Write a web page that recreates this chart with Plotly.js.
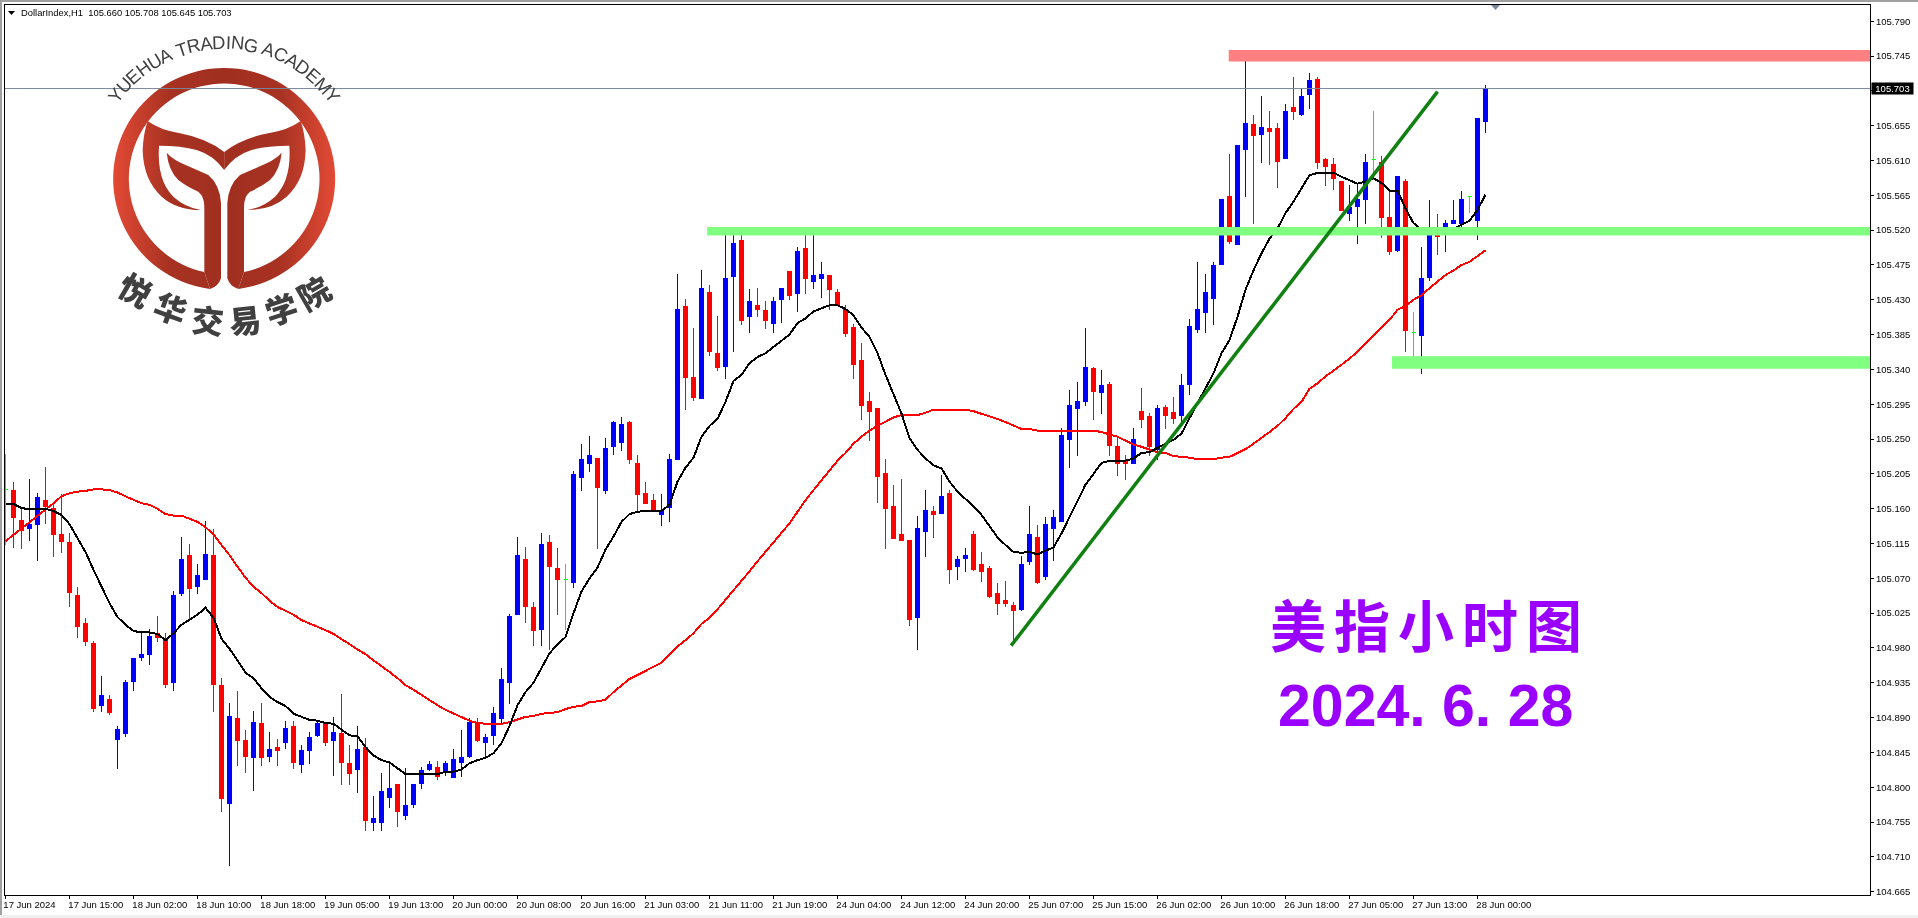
<!DOCTYPE html>
<html><head><meta charset="utf-8">
<script src="https://cdn.plot.ly/plotly-3.0.1.min.js"></script>
<style>html,body{margin:0;padding:0;background:#fff;overflow:hidden}#chart{width:1918px;height:918px}</style>
</head><body><div id="chart"></div>
<script>
const opens=[105.185,105.184,105.145,105.135,105.140,105.171,105.160,105.126,105.116,105.048,
105.011,104.986,104.905,104.914,104.862,104.870,104.937,104.968,104.972,104.999,
104.991,104.935,105.050,105.099,105.060,105.069,105.099,104.931,104.779,104.889,
104.860,104.838,104.882,104.840,104.851,104.858,104.879,104.830,104.848,104.867,
104.882,104.860,104.869,104.831,104.823,104.851,104.755,104.755,104.787,104.804,
104.763,104.778,104.805,104.823,104.826,104.820,104.813,104.832,104.840,104.884,
104.858,104.867,104.889,104.935,105.023,105.094,105.032,105.004,105.116,105.083,
105.069,105.065,105.200,105.219,105.225,105.184,105.240,105.245,105.271,105.219,
105.180,105.171,105.153,105.162,105.224,105.421,105.329,105.303,105.439,105.361,
105.344,105.460,105.506,105.408,105.423,105.416,105.400,105.430,105.466,105.438,
105.496,105.454,105.457,105.461,105.440,105.418,105.394,105.351,105.299,105.289,
105.206,105.163,105.126,105.119,105.020,105.130,105.156,105.154,105.179,105.085,
105.095,105.126,105.088,105.083,105.051,105.041,105.035,105.030,105.092,105.123,
105.073,105.135,105.144,105.250,105.290,105.299,105.341,105.310,105.321,105.241,
105.222,105.219,105.286,105.279,105.236,105.291,105.284,105.280,105.320,105.392,
105.414,105.432,105.475,105.564,105.502,105.624,105.656,105.644,105.651,105.651,
105.612,105.678,105.669,105.695,105.715,105.611,105.605,105.583,105.542,105.550,
105.559,105.611,105.608,105.536,105.494,105.583,105.388,105.384,105.459,105.519,
105.518,105.529,105.529,105.564,105.532,105.660];
const closes=[105.185,105.148,105.132,105.139,105.174,105.163,105.127,105.118,105.052,105.008,
104.988,104.902,104.919,104.897,104.874,104.935,104.966,104.971,104.995,104.993,
104.933,105.048,105.094,105.057,105.074,105.101,104.933,104.785,104.891,104.860,
104.840,104.884,104.838,104.849,104.848,104.876,104.832,104.847,104.864,104.882,
104.858,104.871,104.832,104.818,104.849,104.757,104.759,104.794,104.799,104.768,
104.776,104.804,104.821,104.829,104.814,104.831,104.836,104.839,104.884,104.860,
104.864,104.895,104.939,105.021,105.099,105.033,105.003,105.114,105.085,105.069,
105.069,105.204,105.224,105.229,105.188,105.238,105.271,105.269,105.223,105.178,
105.167,105.158,105.158,105.224,105.418,105.329,105.304,105.444,105.363,105.342,
105.458,105.503,105.403,105.428,105.417,105.403,105.428,105.444,105.435,105.493,
105.457,105.461,105.463,105.443,105.423,105.387,105.347,105.293,105.285,105.202,
105.160,105.122,105.119,105.017,105.134,105.158,105.153,105.176,105.082,105.094,
105.099,105.082,105.079,105.047,105.038,105.038,105.028,105.088,105.126,105.065,
105.139,105.149,105.254,105.294,105.299,105.343,105.312,105.319,105.242,105.218,
105.218,105.249,105.275,105.240,105.289,105.280,105.277,105.319,105.396,105.418,
105.439,105.474,105.559,105.505,105.629,105.658,105.642,105.653,105.647,105.609,
105.674,105.673,105.693,105.714,105.607,105.602,105.587,105.545,105.549,105.559,
105.608,105.611,105.537,105.492,105.589,105.390,105.388,105.458,105.514,105.512,
105.529,105.533,105.560,105.564,105.664,105.703];
const highs=[105.231,105.194,105.160,105.198,105.180,105.214,105.167,105.179,105.129,105.059,
105.019,104.989,104.944,104.919,104.879,104.938,104.966,105.000,105.004,105.021,
104.999,105.054,105.123,105.114,105.088,105.144,105.134,104.941,104.909,104.924,
104.874,104.898,104.909,104.871,104.862,104.885,104.885,104.854,104.871,104.887,
104.884,104.891,104.920,104.854,104.879,104.863,104.789,104.819,104.830,104.804,
104.825,104.804,104.826,104.834,104.834,104.834,104.849,104.874,104.889,104.889,
104.869,104.904,104.954,105.024,105.123,105.110,105.039,105.129,105.126,105.109,
105.088,105.209,105.244,105.254,105.225,105.251,105.273,105.278,105.273,105.229,
105.194,105.179,105.179,105.231,105.463,105.431,105.394,105.469,105.449,105.409,
105.515,105.519,105.519,105.444,105.445,105.428,105.434,105.444,105.466,105.498,
105.515,105.514,105.479,105.461,105.444,105.423,105.399,105.374,105.311,105.289,
105.224,105.191,105.198,105.119,105.151,105.184,105.163,105.204,105.184,105.099,
105.109,105.131,105.104,105.086,105.064,105.066,105.039,105.099,105.163,105.139,
105.149,105.158,105.264,105.313,105.324,105.394,105.343,105.339,105.324,105.253,
105.229,105.264,105.316,105.284,105.294,105.294,105.304,105.334,105.405,105.479,
105.463,105.479,105.559,105.618,105.629,105.753,105.669,105.693,105.674,105.658,
105.683,105.718,105.704,105.723,105.718,105.613,105.613,105.583,105.578,105.580,
105.618,105.674,105.616,105.572,105.589,105.586,105.414,105.498,105.559,105.541,
105.533,105.559,105.571,105.564,105.664,105.708];
const lows=[105.113,105.109,105.108,105.118,105.092,105.140,105.098,105.103,105.033,104.993,
104.982,104.897,104.897,104.893,104.823,104.865,104.924,104.963,104.958,104.988,
104.928,104.924,105.047,105.016,105.050,105.068,104.897,104.768,104.698,104.827,
104.818,104.795,104.827,104.832,104.827,104.849,104.823,104.818,104.830,104.865,
104.853,104.814,104.803,104.803,104.792,104.743,104.743,104.743,104.773,104.748,
104.757,104.773,104.798,104.821,104.809,104.814,104.813,104.813,104.838,104.858,
104.838,104.854,104.883,104.908,105.023,105.012,104.983,104.983,104.977,105.022,
105.003,105.057,105.183,105.207,105.108,105.179,105.229,105.235,105.218,105.156,
105.167,105.158,105.138,105.143,105.223,105.288,105.299,105.303,105.357,105.338,
105.328,105.363,105.397,105.387,105.408,105.392,105.387,105.400,105.430,105.414,
105.438,105.444,105.432,105.417,105.423,105.382,105.328,105.275,105.247,105.167,
105.108,105.122,105.118,105.008,104.977,105.098,105.122,105.154,105.063,105.068,
105.078,105.079,105.065,105.045,105.022,105.033,104.984,105.028,105.087,105.063,
105.068,105.092,105.143,105.213,105.228,105.293,105.275,105.282,105.228,105.202,
105.197,105.218,105.264,105.228,105.223,105.263,105.269,105.267,105.307,105.387,
105.387,105.397,105.475,105.502,105.502,105.563,105.528,105.607,105.604,105.574,
105.612,105.662,105.668,105.677,105.599,105.577,105.572,105.545,105.532,105.502,
105.528,105.585,105.510,105.488,105.492,105.362,105.342,105.334,105.454,105.488,
105.492,105.528,105.519,105.542,105.507,105.645];
const maFast=[105.166,105.166,105.161,105.159,105.160,105.160,105.157,105.152,105.140,105.122,
105.104,105.081,105.059,105.038,105.020,105.010,105.002,105.000,105.000,104.998,
104.990,104.999,105.010,105.016,105.023,105.032,105.019,104.992,104.979,104.964,
104.948,104.941,104.928,104.917,104.910,104.905,104.895,104.891,104.887,104.886,
104.883,104.882,104.874,104.867,104.866,104.852,104.841,104.835,104.832,104.824,
104.817,104.817,104.817,104.817,104.817,104.820,104.820,104.823,104.831,104.835,
104.838,104.844,104.857,104.879,104.906,104.923,104.935,104.954,104.973,104.985,
104.994,105.025,105.053,105.070,105.084,105.107,105.124,105.143,105.153,105.156,
105.157,105.157,105.157,105.165,105.195,105.213,105.226,105.253,105.267,105.276,
105.298,105.325,105.333,105.348,105.356,105.361,105.369,105.378,105.385,105.400,
105.406,105.415,105.419,105.423,105.423,105.418,105.410,105.394,105.382,105.361,
105.333,105.307,105.283,105.251,105.236,105.225,105.216,105.212,105.195,105.182,
105.173,105.163,105.152,105.137,105.123,105.113,105.104,105.103,105.104,105.101,
105.105,105.110,105.128,105.150,105.170,105.191,105.205,105.219,105.222,105.222,
105.222,105.225,105.232,105.233,105.239,105.244,105.249,105.257,105.277,105.296,
105.315,105.335,105.361,105.378,105.408,105.443,105.468,105.490,105.509,105.522,
105.542,105.557,105.574,105.591,105.594,105.594,105.594,105.589,105.584,105.580,
105.583,105.587,105.581,105.571,105.571,105.548,105.529,105.521,105.520,105.519,
105.520,105.521,105.527,105.532,105.546,105.566];
const maSlow=[105.118,105.126,105.135,105.142,105.151,105.158,105.167,105.176,105.180,105.182,
105.183,105.185,105.185,105.184,105.181,105.176,105.171,105.167,105.165,105.160,
105.153,105.151,105.151,105.147,105.143,105.136,105.127,105.113,105.100,105.085,
105.071,105.059,105.051,105.041,105.033,105.028,105.023,105.016,105.012,105.007,
105.003,104.998,104.992,104.985,104.978,104.972,104.964,104.957,104.949,104.941,
104.932,104.926,104.919,104.913,104.906,104.900,104.895,104.890,104.886,104.883,
104.882,104.882,104.882,104.884,104.888,104.891,104.892,104.895,104.896,104.897,
104.901,104.904,104.905,104.910,104.911,104.913,104.923,104.932,104.940,104.945,
104.950,104.955,104.961,104.971,104.982,104.990,104.999,105.011,105.019,105.030,
105.042,105.055,105.066,105.079,105.092,105.104,105.117,105.129,105.141,105.156,
105.171,105.184,105.197,105.210,105.222,105.232,105.244,105.253,105.261,105.267,
105.272,105.278,105.281,105.281,105.281,105.284,105.288,105.288,105.288,105.288,
105.288,105.286,105.283,105.279,105.276,105.272,105.267,105.263,105.263,105.261,
105.261,105.261,105.261,105.261,105.261,105.261,105.261,105.259,105.256,105.253,
105.248,105.243,105.240,105.236,105.233,105.232,105.228,105.227,105.226,105.224,
105.224,105.224,105.226,105.227,105.232,105.237,105.244,105.251,105.259,105.267,
105.277,105.289,105.298,105.315,105.322,105.331,105.338,105.346,105.354,105.363,
105.374,105.384,105.393,105.404,105.417,105.422,105.430,105.436,105.445,105.453,
105.462,105.468,105.475,105.479,105.486,105.494];
const timeLabels=["17 Jun 2024","17 Jun 15:00","18 Jun 02:00","18 Jun 10:00","18 Jun 18:00","19 Jun 05:00","19 Jun 13:00","20 Jun 00:00","20 Jun 08:00","20 Jun 16:00","21 Jun 03:00","21 Jun 11:00","21 Jun 19:00","24 Jun 04:00","24 Jun 12:00","24 Jun 20:00","25 Jun 07:00","25 Jun 15:00","26 Jun 02:00","26 Jun 10:00","26 Jun 18:00","27 Jun 05:00","27 Jun 13:00","28 Jun 00:00"];
const timeBars=timeLabels.map((_,k)=>k*8);
const priceLabels=["104.665","104.710","104.755","104.800","104.845","104.890","104.935","104.980","105.025","105.070","105.115","105.160","105.205","105.250","105.295","105.340","105.385","105.430","105.475","105.520","105.565","105.610","105.655","105.700","105.745","105.790"];
const lastPrice=105.703;
const resistance=[105.738,105.753];
const supportHigh=[105.513,105.524];
const supportLow=[105.341,105.357];
const trendFrom=[125.7,104.983];
const trendTo=[179,105.699];

const W=1918,H=918,L=5,R=1870,T=5,B=895;
const px=x=>(x-L)/(R-L), py=y=>(B-y)/(B-T);
const xRange=[-0.0625,233.06], yRange=[104.6607,105.8110];
const AXF="Liberation Sans, sans-serif";
const idx=opens.map((_,i)=>i);
const isDoji=i=>opens[i]===closes[i];
const pick=(arr,f)=>idx.filter(f).map(i=>arr[i]);
const solid=c=>({line:{color:c,width:1},fillcolor:c});
const mainF=i=>!isDoji(i), dojiF=i=>isDoji(i);
const traces=[
 {type:'candlestick',x:pick(idx,mainF),open:pick(opens,mainF),high:pick(highs,mainF),low:pick(lows,mainF),close:pick(closes,mainF),
  increasing:solid('#0000FF'),decreasing:solid('#FF0000'),whiskerwidth:0,hoverinfo:'skip',showlegend:false},
 {type:'candlestick',x:pick(idx,dojiF),open:pick(opens,dojiF),high:pick(highs,dojiF),low:pick(lows,dojiF),close:pick(closes,dojiF),
  increasing:solid('#00FF00'),decreasing:solid('#00FF00'),whiskerwidth:0,hoverinfo:'skip',showlegend:false},
 {type:'scatter',mode:'lines',x:idx,y:maSlow,xaxis:'x2',yaxis:'y',line:{color:'#FF0000',width:2},hoverinfo:'skip',showlegend:false},
 {type:'scatter',mode:'lines',x:idx,y:maFast,xaxis:'x2',yaxis:'y',line:{color:'#000000',width:2},hoverinfo:'skip',showlegend:false}
];

const zone=(x0,ys,c)=>({type:'rect',xref:'x',yref:'y',x0:x0,x1:xRange[1],y0:ys[0],y1:ys[1],fillcolor:c,line:{width:0},layer:'above'});
const box=(x0,y0,x1,y1,c)=>({type:'rect',xref:'paper',yref:'paper',x0:px(x0),x1:px(x1),y0:py(y1),y1:py(y0),fillcolor:c,line:{width:0},layer:'above'});
const tri=(x0,x1,y0,y1,c)=>({type:'path',xref:'paper',yref:'paper',path:`M${px(x0)},${py(y0)} L${px(x1)},${py(y0)} L${px((x0+x1)/2)},${py(y1)} Z`,fillcolor:c,line:{width:0},layer:'above'});
const shapes=[
 zone(152.9,resistance,'#FF8080'),
 zone(87.7,supportHigh,'#80FF80'),
 zone(173.3,supportLow,'#80FF80'),
 {type:'line',xref:'paper',yref:'y',x0:0,x1:1,y0:lastPrice,y1:lastPrice,line:{color:'#778899',width:1},layer:'above'},
 {type:'line',xref:'x',yref:'y',x0:trendFrom[0],y0:trendFrom[1],x1:trendTo[0],y1:trendTo[1],line:{color:'#108010',width:3.5},layer:'above'},
 tri(8,15,11,15,'#000000'),
 tri(1491,1500,5,10,'#778899'),
 box(0,0,1918,2,'#A0A0A0'),
 box(0,0,2,918,'#A0A0A0'),
 box(0,915,1918,918,'#F0F0F0')
];

const annotations=[];
const note=(x,y,text,font,extra)=>annotations.push(Object.assign({xref:'paper',yref:'paper',x:px(x),y:py(y),text:text,showarrow:false,font:font,xanchor:'center',yanchor:'middle',borderpad:0},extra||{}));
note(20,12.7,"DollarIndex,H1\u00a0\u00a0105.660 105.708 105.645 105.703",{family:AXF,size:9.4,color:'#000'},{xanchor:'left'});
annotations.push({xref:'paper',yref:'y',x:px(1892.5),y:lastPrice,text:"105.703",showarrow:false,font:{family:AXF,size:9.5,color:'#fff'},bgcolor:'#000',width:41,height:11,borderpad:0,xanchor:'center',yanchor:'middle'});
note(1430,622,"美指小时图",{family:"Noto Sans CJK SC",size:56,color:'#9900FF',weight:700},{name:'spaced'});
note(1425.5,706,"2024. 6. 28",{family:"Liberation Sans",size:59,color:'#9900FF',weight:700});

const logoCx=224,logoCy=178.3;
(function(){
 const txt="YUEHUA TRADING ACADEMY",fs=18.5,rad=136,ctx=document.createElement('canvas').getContext('2d');
 ctx.font=fs+'px "Liberation Sans"';
 const total=ctx.measureText(txt).width;
 for(let k=0;k<txt.length;k++){
  if(txt[k]===' ')continue;
  const mid=ctx.measureText(txt.slice(0,k)).width+ctx.measureText(txt[k]).width/2;
  const a=(mid-total/2)/rad;
  note(logoCx+rad*Math.sin(a),logoCy-rad*Math.cos(a),txt[k],{family:"Liberation Sans",size:fs,color:'#404040'},{textangle:a*180/Math.PI});
 }
 const cn="悦华交易学院",pos=[[136,289,30],[171,307,20],[208,319,6],[245,319,-6],[281,308,-18],[313,292,-30]];
 [...cn].forEach((c,k)=>note(pos[k][0],pos[k][1],c,{family:"Noto Sans CJK SC",size:32,color:'#404040',weight:900},{textangle:pos[k][2]}));
})();

const half='<path d="M613 816 L630 867 Q655 860 663 835 L663 610 Q660 555 625 525 Q590 510 545 490 Q515 475 500 458 Q505 510 535 540 Q560 560 595 575 Q613 590 613 620 Z"/>'+
 '<path d="M443 363 Q480 390 540 400 Q620 415 672.5 456 L672.5 510 Q640 465 590 450 Q545 437 477 437 Q470 540 520 590 Q555 622 603 630 Q530 630 485 590 Q430 540 428 450 Q430 400 443 363 Z"/>';
const logo='<svg xmlns="http://www.w3.org/2000/svg" width="740" height="720" viewBox="300 180 740 720">'+
 '<defs><linearGradient id="g" gradientUnits="userSpaceOnUse" x1="340" x2="1005" y1="0" y2="0"><stop offset="0" stop-color="#E24A35"/><stop offset=".25" stop-color="#A83222"/><stop offset=".5" stop-color="#A02F20"/><stop offset=".75" stop-color="#A83222"/><stop offset="1" stop-color="#E24A35"/></linearGradient></defs>'+
 '<g fill="url(#g)"><path fill-rule="evenodd" d="M630 867 A333 333 0 1 1 715 867 L732 816 A286 286 0 1 0 613 816 Z"/>'+half+
 '<g transform="translate(1345,0) scale(-1,1)">'+half+'</g></g></svg>';
const images=[{source:'data:image/svg+xml;charset=utf-8,'+encodeURIComponent(logo),xref:'paper',yref:'paper',x:px(100),y:py(60),sizex:246.67/(R-L),sizey:240/(B-T),sizing:'stretch',xanchor:'left',yanchor:'top',layer:'below'}];

const layout={
 width:W,height:H,margin:{l:L,r:W-R,t:T,b:H-B,pad:0},autosize:false,
 paper_bgcolor:'#fff',plot_bgcolor:'#fff',showlegend:false,hovermode:false,dragmode:false,
 boxmode:'overlay',boxgap:0.2857,
 xaxis:{range:xRange,type:'linear',tickmode:'array',tickvals:timeBars,ticktext:timeBars.map(()=>''),ticks:'outside',ticklen:3,tickwidth:1,tickcolor:'#000',showgrid:false,zeroline:false,showline:true,mirror:true,linecolor:'#000',linewidth:1,rangeslider:{visible:false},fixedrange:true},
 xaxis2:{overlaying:'x',anchor:'y',side:'bottom',range:xRange,type:'linear',tickmode:'array',tickvals:timeBars.map((v,k)=>v+(k===0?3.0:3.29)),ticktext:timeLabels,ticks:'',showgrid:false,zeroline:false,showline:false,tickfont:{family:AXF,size:9.5,color:'#000'},tickangle:0,ticklabelstandoff:2,fixedrange:true},
 yaxis:{range:yRange,type:'linear',side:'right',tickmode:'array',tickvals:priceLabels.map(Number),ticktext:priceLabels,ticks:'outside',ticklen:3,tickwidth:1,tickcolor:'#000',tickfont:{family:AXF,size:9.5,color:'#000'},showgrid:false,zeroline:false,showline:true,mirror:true,linecolor:'#000',linewidth:1,fixedrange:true},
 shapes:shapes,annotations:annotations,images:images
};
Plotly.newPlot('chart',traces,layout,{displayModeBar:false,staticPlot:true}).then(gd=>{
 gd.querySelectorAll('.shapelayer path').forEach(p=>{
  const f=p.style.fill||'';
  if(f.indexOf('255, 128, 128')>=0||f.indexOf('128, 255, 128')>=0) p.style.mixBlendMode='multiply';
 });
 gd.querySelectorAll('.annotation-text').forEach(t=>{ if(t.textContent==='美指小时图') t.style.letterSpacing='8px'; });
 gd.querySelectorAll('.scatterlayer .js-line, .boxes path').forEach(p=>{p.style.shapeRendering='crispEdges';});
});
</script></body></html>
